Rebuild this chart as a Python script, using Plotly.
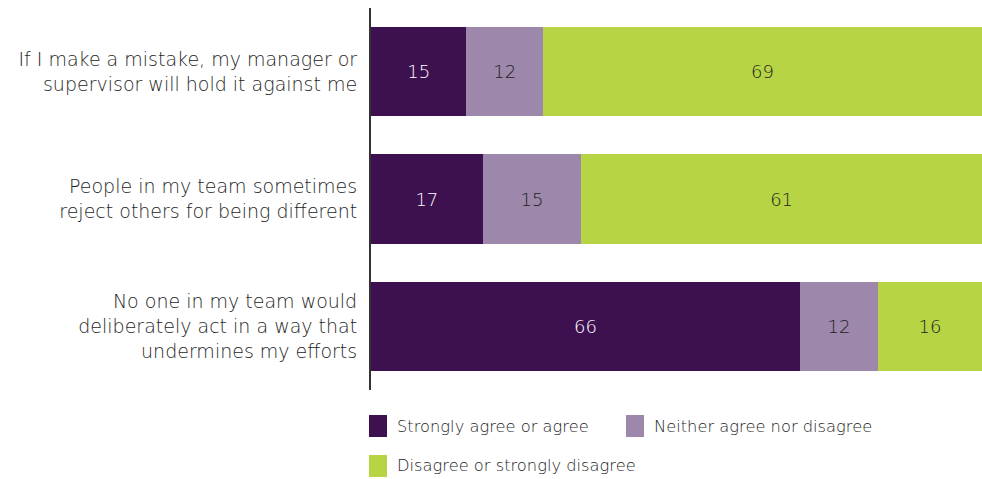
import plotly.graph_objects as go

# Survey statements (top to bottom)
statements = [
    "If I make a mistake, my manager or<br>supervisor will hold it against me",
    "People in my team sometimes<br>reject others for being different",
    "No one in my team would<br>deliberately act in a way that<br>undermines my efforts",
]

# Response shares (%)
agree = [15, 17, 66]
neither = [12, 15, 12]
disagree = [69, 61, 16]

series_names = [
    "Strongly agree or agree",
    "Neither agree nor disagree",
    "Disagree or strongly disagree",
]
series_values = [agree, neither, disagree]
colors = ["#3D1150", "#9D87AB", "#B7D444"]
text_colors = ["#FFFFFF", "#1E1E1E", "#1E1E1E"]

FONT = "'DejaVu Sans', 'Open Sans', sans-serif"
TEXT_COLOR = "#1E1E1E"

W, H = 982, 479
left_margin, right_margin, top_margin, bottom_margin = 371, 0, 8, 89
plot_w = W - left_margin - right_margin
plot_h = H - top_margin - bottom_margin

fig = go.Figure()
for name, vals, col, tcol in zip(series_names, series_values, colors, text_colors):
    fig.add_trace(go.Bar(
        y=statements,
        x=vals,
        name=name,
        orientation="h",
        marker=dict(color=col, line=dict(width=0)),
        text=[str(v) for v in vals],
        textposition="inside",
        insidetextanchor="middle",
        textangle=0,
        constraintext="none",
        textfont=dict(color=tcol, size=18, family=FONT, weight=200),
        showlegend=False,
        hoverinfo="skip",
    ))


def to_paper_x(px):
    return (px - left_margin) / plot_w


def to_paper_y(py):
    return (H - bottom_margin - py) / plot_h


# Legend drawn below the plot: coloured swatch plus label per series
legend_pos = [(369, 426), (626, 426), (369, 466)]
for (px, py), name, col in zip(legend_pos, series_names, colors):
    fig.add_shape(
        type="rect", xref="paper", yref="paper",
        x0=to_paper_x(px), x1=to_paper_x(px + 18),
        y0=to_paper_y(py + 11), y1=to_paper_y(py - 11),
        fillcolor=col, line=dict(width=0),
    )
    fig.add_annotation(
        xref="paper", yref="paper",
        x=to_paper_x(px + 26), y=to_paper_y(py),
        xanchor="left", yanchor="middle",
        text=name, showarrow=False,
        font=dict(size=16.3, color=TEXT_COLOR, family=FONT, weight=200),
    )

fig.update_layout(
    barmode="stack",
    barnorm="percent",
    bargap=0.30,
    width=W,
    height=H,
    margin=dict(l=left_margin, r=right_margin, t=top_margin, b=bottom_margin),
    paper_bgcolor="white",
    plot_bgcolor="white",
    font=dict(family=FONT, size=17, color=TEXT_COLOR),
    xaxis=dict(
        range=[0, 100],
        showgrid=False,
        zeroline=False,
        showticklabels=False,
        showline=False,
        fixedrange=True,
    ),
    yaxis=dict(
        autorange="reversed",
        showgrid=False,
        zeroline=False,
        showline=True,
        linecolor="#333333",
        linewidth=2,
        ticks="",
        ticklabelstandoff=8,
        tickfont=dict(size=19, color=TEXT_COLOR, family=FONT, weight=200),
        fixedrange=True,
    ),
)

fig.write_html("out.html")
